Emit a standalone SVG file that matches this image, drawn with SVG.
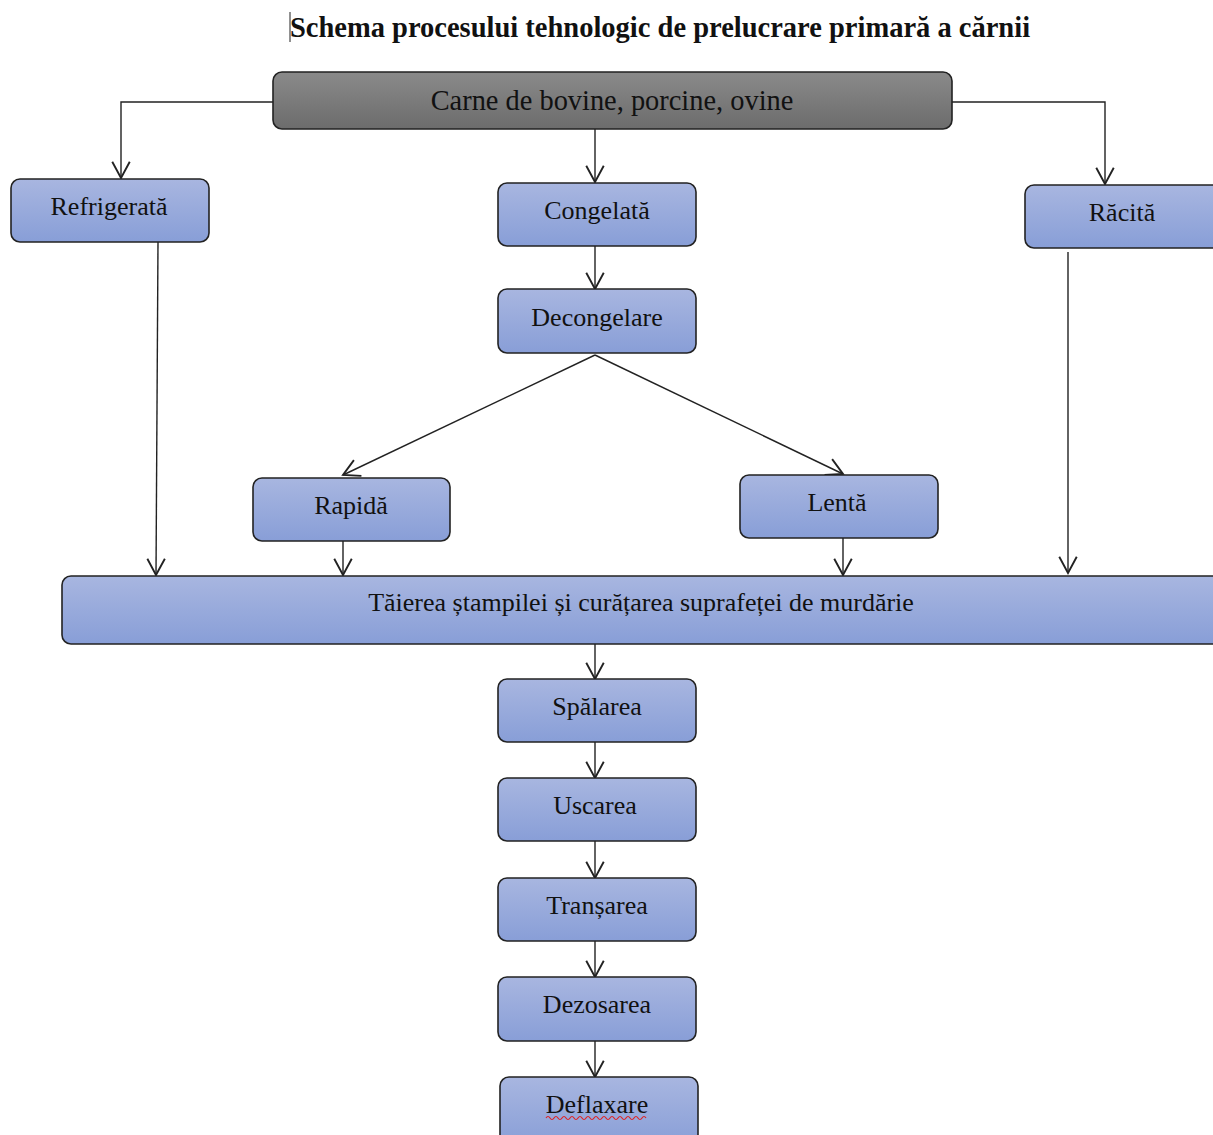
<svg xmlns="http://www.w3.org/2000/svg" width="1213" height="1135" viewBox="0 0 1213 1135">
<defs>
<linearGradient id="blue" x1="0" y1="0" x2="0" y2="1">
<stop offset="0" stop-color="#a8b6e0"/>
<stop offset="1" stop-color="#889ed7"/>
</linearGradient>
<linearGradient id="gray" x1="0" y1="0" x2="0" y2="1">
<stop offset="0" stop-color="#8a8a8a"/>
<stop offset="1" stop-color="#6c6c6c"/>
</linearGradient>
<marker id="arr" markerUnits="userSpaceOnUse" markerWidth="20" markerHeight="20" viewBox="-14 -8 16 16" refX="0" refY="0" orient="auto">
<path d="M-13,-7 L0,0 L-13,7" fill="none" stroke="#222" stroke-width="1.5"/>
</marker>
</defs>
<style>
.box{fill:url(#blue);stroke:#222;stroke-width:1.6}
.top{fill:url(#gray);stroke:#222;stroke-width:1.6}
.lbl{font-family:"Liberation Serif","Times New Roman",serif;font-size:26px;fill:#111;text-anchor:middle}
.big{font-size:28.4px}
.ttl{font-family:"Liberation Serif","Times New Roman",serif;font-size:28.5px;font-weight:bold;fill:#111;text-anchor:middle}
.con{fill:none;stroke:#222;stroke-width:1.4}
</style>
<rect width="1213" height="1135" fill="#fff"/>
<line x1="290" y1="12" x2="290" y2="42" stroke="#222" stroke-width="1"/>
<text class="ttl" x="660" y="37">Schema procesului tehnologic de prelucrare primară a cărnii</text>
<g id="connectors">
<path class="con" d="M273,102 H121 V178" marker-end="url(#arr)"/>
<path class="con" d="M952,102 H1105 V184" marker-end="url(#arr)"/>
<path class="con" d="M595,129 V182" marker-end="url(#arr)"/>
<path class="con" d="M595,246 V289" marker-end="url(#arr)"/>
<path class="con" d="M595,355 L343,475" marker-end="url(#arr)"/>
<path class="con" d="M595,355 L843,474" marker-end="url(#arr)"/>
<path class="con" d="M158,242 L156,575" marker-end="url(#arr)"/>
<path class="con" d="M343,541 V575" marker-end="url(#arr)"/>
<path class="con" d="M843,538 V575" marker-end="url(#arr)"/>
<path class="con" d="M1068,252 V573" marker-end="url(#arr)"/>
<path class="con" d="M595,644 V679" marker-end="url(#arr)"/>
<path class="con" d="M595,742 V778" marker-end="url(#arr)"/>
<path class="con" d="M595,841 V878" marker-end="url(#arr)"/>
<path class="con" d="M595,941 V977" marker-end="url(#arr)"/>
<path class="con" d="M595,1041 V1077" marker-end="url(#arr)"/>
</g>
<g id="n-carne"><rect class="top" x="273" y="72" width="679" height="57" rx="9"/><text class="lbl big" x="612" y="110">Carne de bovine, porcine, ovine</text></g>
<g id="n-refrigerata"><rect class="box" x="11" y="179" width="198" height="63" rx="9"/><text class="lbl" x="109" y="215">Refrigerată</text></g>
<g id="n-congelata"><rect class="box" x="498" y="183" width="198" height="63" rx="9"/><text class="lbl" x="597" y="219">Congelată</text></g>
<g id="n-racita"><rect class="box" x="1025" y="185" width="200" height="63" rx="9"/><text class="lbl" x="1122" y="221">Răcită</text></g>
<g id="n-decongelare"><rect class="box" x="498" y="289" width="198" height="64" rx="9"/><text class="lbl" x="597" y="326">Decongelare</text></g>
<g id="n-rapida"><rect class="box" x="253" y="478" width="197" height="63" rx="9"/><text class="lbl" x="351" y="514">Rapidă</text></g>
<g id="n-lenta"><rect class="box" x="740" y="475" width="198" height="63" rx="9"/><text class="lbl" x="837" y="511">Lentă</text></g>
<g id="n-taierea"><rect class="box" x="62" y="576" width="1165" height="68" rx="9"/><text class="lbl" x="641" y="611">Tăierea ștampilei și curățarea suprafeței de murdărie</text></g>
<g id="n-spalarea"><rect class="box" x="498" y="679" width="198" height="63" rx="9"/><text class="lbl" x="597" y="715">Spălarea</text></g>
<g id="n-uscarea"><rect class="box" x="498" y="778" width="198" height="63" rx="9"/><text class="lbl" x="595" y="814">Uscarea</text></g>
<g id="n-transarea"><rect class="box" x="498" y="878" width="198" height="63" rx="9"/><text class="lbl" x="597" y="914">Tranșarea</text></g>
<g id="n-dezosarea"><rect class="box" x="498" y="977" width="198" height="64" rx="9"/><text class="lbl" x="597" y="1013">Dezosarea</text></g>
<g id="n-deflaxare"><rect class="box" x="500" y="1077" width="198" height="70" rx="9"/><text class="lbl" x="597" y="1113">Deflaxare</text>
<path d="M546,1118 q2,-3 4,0 t4,0 t4,0 t4,0 t4,0 t4,0 t4,0 t4,0 t4,0 t4,0 t4,0 t4,0 t4,0 t4,0 t4,0 t4,0 t4,0 t4,0 t4,0 t4,0 t4,0 t4,0 t4,0 t4,0 t4,0" fill="none" stroke="#e02020" stroke-width="1.2"/></g>
</svg>
